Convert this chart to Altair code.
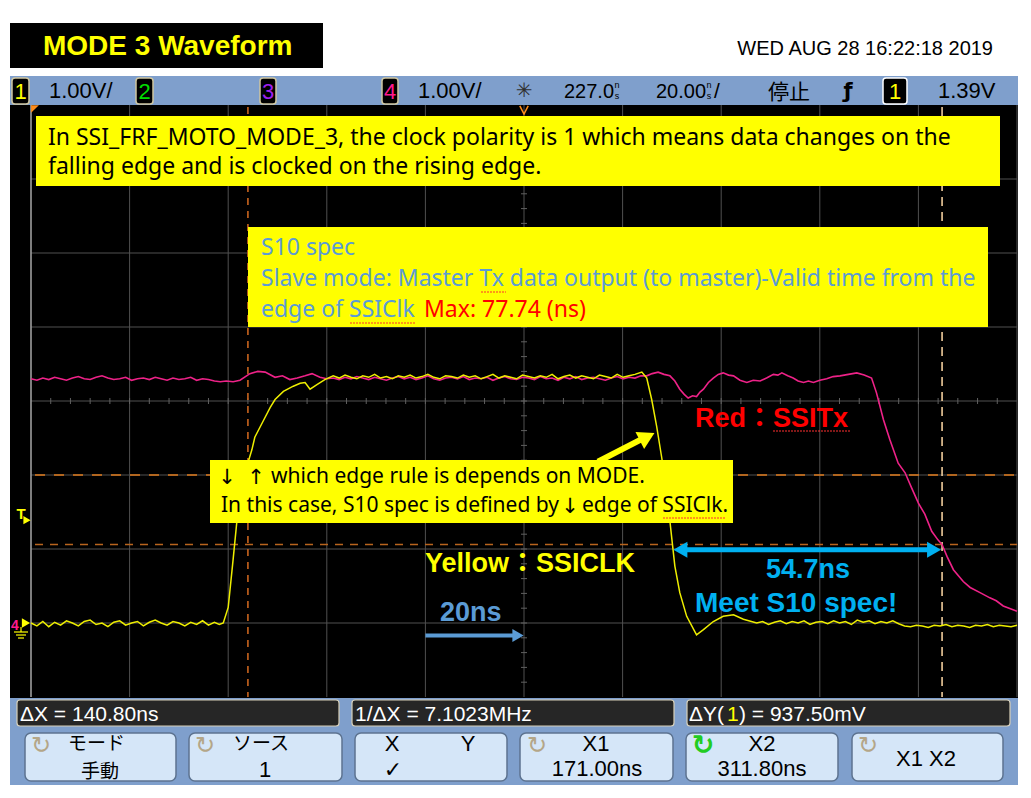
import altair as alt
import pandas as pd

# ---------------- values ----------------
# time: 20 ns/div, 10 div, centre 227.0 ns  -> 127 .. 327 ns
# volts: 1.00 V/div, 8 div, ground 3 div below centre -> -1 .. 7 V
t_domain = [127.0, 327.0]
v_domain = [-1.0, 7.0]
grid_t = [127, 147, 167, 187, 207, 227, 247, 267, 287, 307, 327]
grid_v = [0, 1, 2, 3, 4, 5, 6]

cursor_x1 = 171.00
cursor_x2 = 311.80
cursor_y1 = 1.0625
cursor_y2 = 2.0
trigger_level = 1.39
span_ns = 54.7

# channel 1 (yellow, SSICLK)
y_low1_t = [127.0, 128.2, 129.4, 130.6, 131.8, 133.0, 134.2, 135.4, 136.6, 137.8,
            139.0, 140.2, 141.4, 142.6, 143.8, 145.0, 146.2, 147.4, 148.6, 149.8,
            151.0, 152.2, 153.4, 154.6, 155.8, 157.0, 158.2, 159.4, 160.6, 161.8,
            163.0, 164.2, 165.2, 166.0]
y_low1_v = [0.00, -0.04, 0.02, -0.05, 0.01, -0.03, 0.03, 0.00, -0.04, 0.02,
            0.04, -0.02, 0.00, -0.05, 0.01, 0.03, -0.03, 0.00, 0.02, -0.04,
            0.01, 0.04, 0.00, -0.03, 0.02, 0.00, -0.04, 0.01, -0.02, 0.03,
            -0.03, 0.01, -0.02, 0.00]
y_rise_t = [167.0, 168.0, 168.8, 169.7, 170.8, 171.8, 172.4, 174.1, 175.5, 176.5,
            178.2, 180.2, 181.6, 182.6, 183.6, 185.0, 186.6, 188.3]
y_rise_v = [0.21, 0.86, 1.40, 1.76, 2.12, 2.34, 2.51, 2.73, 2.91, 3.02,
            3.13, 3.20, 3.24, 3.25, 3.16, 3.22, 3.29, 3.34]
y_high_t = [189.5, 190.7, 191.9, 193.1, 194.3, 195.5, 196.7, 197.9, 199.1, 200.3,
            201.5, 202.7, 203.9, 205.1, 206.3, 207.5, 208.7, 209.9, 211.1, 212.3,
            213.5, 214.7, 215.9, 217.1, 218.3, 219.5, 220.7, 221.9, 223.1, 224.3,
            225.5, 226.7, 227.9, 229.1, 230.3, 231.5, 232.7, 233.9, 235.1, 236.3,
            237.5, 238.7, 239.9, 241.1, 242.3, 243.5, 244.7, 245.9, 247.1, 248.3,
            249.5, 250.9]
y_high_v = [3.31, 3.35, 3.32, 3.30, 3.34, 3.32, 3.36, 3.31, 3.33, 3.30,
            3.34, 3.32, 3.35, 3.31, 3.33, 3.36, 3.32, 3.30, 3.34, 3.33,
            3.31, 3.35, 3.32, 3.34, 3.30, 3.33, 3.36, 3.31, 3.34, 3.32,
            3.30, 3.35, 3.33, 3.31, 3.34, 3.32, 3.36, 3.30, 3.33, 3.35,
            3.31, 3.34, 3.32, 3.30, 3.35, 3.33, 3.31, 3.36, 3.32, 3.34,
            3.36, 3.39]
y_fall_t = [251.9, 252.9, 253.9, 254.9, 255.9, 257.0, 257.6, 258.6, 260.0, 262.0,
            263.4, 265.4, 267.4, 269.5, 271.5, 274.2]
y_fall_v = [3.31, 3.02, 2.66, 2.25, 1.80, 1.13, 0.77, 0.41, 0.09, -0.16,
            -0.09, 0.02, 0.09, 0.11, 0.05, 0.00]
y_low2_t = [275.4, 276.6, 277.8, 279.0, 280.2, 281.4, 282.6, 283.8, 285.0, 286.2,
            287.4, 288.6, 289.8, 291.0, 292.2, 293.4, 294.6, 295.8, 297.0, 298.2,
            299.4, 300.6, 301.8, 303.0, 304.2, 305.4, 306.6, 307.8, 309.0, 310.2,
            311.4, 312.6, 313.8, 315.0, 316.2, 317.4, 318.6, 319.8, 321.0, 322.2,
            323.4, 324.6, 325.8, 327.0]
y_low2_v = [0.02, -0.02, 0.01, 0.03, -0.01, 0.02, 0.00, 0.03, -0.02, 0.01,
            0.02, -0.01, 0.03, 0.00, 0.02, -0.02, 0.04, 0.01, 0.03, -0.01,
            0.02, 0.00, 0.03, -0.01, -0.04, -0.05, -0.03, -0.04, -0.06, -0.03,
            -0.04, -0.02, -0.05, -0.03, -0.04, -0.06, -0.03, -0.04, -0.02, -0.05,
            -0.03, -0.04, -0.05, -0.03]

# channel 4 (pink, SSITx)
p_high1_t = [127.0, 128.2, 129.4, 130.6, 131.8, 133.0, 134.2, 135.4, 136.6, 137.8,
             139.0, 140.2, 141.4, 142.6, 143.8, 145.0, 146.2, 147.4, 148.6, 149.8,
             151.0, 152.2, 153.4, 154.6, 155.8, 157.0, 158.2, 159.4, 160.6, 161.8,
             163.0, 164.2, 165.4, 166.6]
p_high1_v = [3.30, 3.28, 3.31, 3.29, 3.32, 3.30, 3.28, 3.31, 3.33, 3.30,
             3.29, 3.32, 3.34, 3.31, 3.29, 3.30, 3.32, 3.28, 3.30, 3.31,
             3.29, 3.32, 3.30, 3.28, 3.31, 3.29, 3.30, 3.32, 3.28, 3.30,
             3.29, 3.27, 3.26, 3.27]
p_bump1_t = [168.0, 169.4, 171.4, 173.0, 174.5, 176.5, 178.0, 179.5, 181.0, 182.6,
             184.0, 185.6, 187.0]
p_bump1_v = [3.26, 3.28, 3.37, 3.40, 3.39, 3.32, 3.34, 3.29, 3.31, 3.34,
             3.37, 3.32, 3.30]
p_high2_t = [188.3, 189.5, 190.7, 191.9, 193.1, 194.3, 195.5, 196.7, 197.9, 199.1,
             200.3, 201.5, 202.7, 203.9, 205.1, 206.3, 207.5, 208.7, 209.9, 211.1,
             212.3, 213.5, 214.7, 215.9, 217.1, 218.3, 219.5, 220.7, 221.9, 223.1,
             224.3, 225.5, 226.7, 227.9, 229.1, 230.3, 231.5, 232.7, 233.9, 235.1,
             236.3, 237.5, 238.7, 239.9, 241.1, 242.3, 243.5, 244.7, 245.9, 247.1,
             248.3, 249.5, 250.7]
p_high2_v = [3.31, 3.29, 3.32, 3.30, 3.33, 3.31, 3.29, 3.32, 3.30, 3.28,
             3.31, 3.33, 3.30, 3.32, 3.29, 3.31, 3.34, 3.30, 3.28, 3.31,
             3.32, 3.30, 3.33, 3.29, 3.31, 3.30, 3.32, 3.28, 3.31, 3.33,
             3.30, 3.29, 3.32, 3.31, 3.29, 3.33, 3.30, 3.31, 3.28, 3.32,
             3.30, 3.33, 3.29, 3.31, 3.32, 3.30, 3.28, 3.31, 3.33, 3.30,
             3.32, 3.31, 3.34]
p_wave_t = [251.9, 253.0, 254.2, 255.4, 256.6, 257.6, 258.6, 259.5, 260.3, 261.2,
            262.0, 262.7, 263.4, 264.4, 265.4, 266.4, 267.4, 268.5, 269.5, 270.8,
            272.2, 273.5, 274.9, 276.2, 277.6, 278.5, 279.3, 280.5, 281.6, 282.6,
            283.7, 284.7, 285.7, 287.0, 288.4, 289.7, 291.1, 292.8, 294.5, 296.0,
            297.5]
p_wave_v = [3.34, 3.37, 3.39, 3.36, 3.34, 3.27, 3.16, 3.09, 3.04, 3.07,
            3.06, 3.12, 3.16, 3.25, 3.31, 3.36, 3.38, 3.35, 3.34, 3.28,
            3.25, 3.28, 3.27, 3.31, 3.36, 3.35, 3.38, 3.34, 3.31, 3.27,
            3.25, 3.27, 3.25, 3.28, 3.30, 3.33, 3.34, 3.36, 3.38, 3.35,
            3.31]
p_fall_t = [298.5, 299.9, 301.2, 302.9, 304.3, 305.6, 307.0, 308.3, 309.7, 311.0,
            311.8, 312.8, 314.1, 316.1, 317.5, 319.5, 321.5, 322.8, 324.2, 325.4,
            327.0]
p_fall_v = [3.11, 2.75, 2.48, 2.16, 2.03, 1.83, 1.62, 1.47, 1.24, 1.12,
            1.06, 0.90, 0.72, 0.56, 0.48, 0.41, 0.34, 0.30, 0.23, 0.20,
            0.16]

yellow = pd.DataFrame({"t": y_low1_t + y_rise_t + y_high_t + y_fall_t + y_low2_t,
                       "v": y_low1_v + y_rise_v + y_high_v + y_fall_v + y_low2_v})
pink = pd.DataFrame({"t": p_high1_t + p_bump1_t + p_high2_t + p_wave_t + p_fall_t,
                     "v": p_high1_v + p_bump1_v + p_high2_v + p_wave_v + p_fall_v})

# ---------------- layout helpers ----------------
W, H = 986, 592          # plot area = scope graticule
OX, OY = 31, 105         # page position of the graticule's top-left corner
ONE = pd.DataFrame({"k": [0]})
SCOPE = "Liberation Sans, Arial, sans-serif"
NOTE = "Noto Sans, Open Sans, sans-serif"
BOLD = "Liberation Sans, Noto Sans CJK JP, sans-serif"
JP = "Noto Sans CJK JP, sans-serif"
SYM = "DejaVu Sans, sans-serif"

xs = alt.Scale(domain=t_domain, nice=False, zero=False)
ys = alt.Scale(domain=v_domain, nice=False, zero=False)


def X(f):
    return alt.X(f, type="quantitative", scale=xs, axis=None)


def Y(f):
    return alt.Y(f, type="quantitative", scale=ys, axis=None)


def rect(x1, y1, x2, y2, fill, stroke=None, sw=1.0, r=0):
    kw = dict(fill=fill)
    if stroke:
        kw.update(stroke=stroke, strokeWidth=sw)
    else:
        kw.update(strokeWidth=0)
    if r:
        kw["cornerRadius"] = r
    return alt.Chart(ONE).mark_rect(**kw).encode(
        x=alt.value(x1 - OX), x2=alt.value(x2 - OX),
        y=alt.value(y1 - OY), y2=alt.value(y2 - OY))


def text(x, y, s, size, color="black", font=SCOPE, weight="normal",
         align="left", baseline="alphabetic"):
    return alt.Chart(ONE).mark_text(
        text=s, fontSize=size, color=color, font=font, fontWeight=weight,
        align=align, baseline=baseline).encode(
        x=alt.value(x - OX), y=alt.value(y - OY))


def seg(x1, y1, x2, y2, color, sw=1.0, dash=None):
    kw = dict(color=color, strokeWidth=sw)
    if dash:
        kw["strokeDash"] = dash
    return alt.Chart(ONE).mark_rule(**kw).encode(
        x=alt.value(x1 - OX), x2=alt.value(x2 - OX),
        y=alt.value(y1 - OY), y2=alt.value(y2 - OY))


def sym(x, y, shape, size, color, filled=True, angle=0, sw=1.5):
    kw = dict(shape=shape, size=size, filled=filled, opacity=1, strokeWidth=sw)
    if filled:
        kw.update(fill=color, strokeWidth=0)
    else:
        kw.update(stroke=color)
    if angle:
        kw["angle"] = angle
    return alt.Chart(ONE).mark_point(**kw).encode(
        x=alt.value(x - OX), y=alt.value(y - OY))


def squiggle(x1, x2, y):
    return seg(x1, y, x2, y, "#ff3030", 1.2, [2, 1])


layers = []

# ---------------- page chrome ----------------
layers.append(rect(10, 23, 323, 68, "black"))
layers.append(text(43, 55, "MODE 3 Waveform", 28, "#ffff00", BOLD, "bold"))
layers.append(text(993, 55, "WED AUG 28 16:22:18 2019", 20, "black", SCOPE, align="right"))

# status bar
layers.append(rect(10, 76, 1018, 105, "#7f9fcc"))
for (bx1, bx2, lab, col, bstroke) in [(12, 29, "1", "#ffff00", "#cfc6a0"),
                                      (136, 153, "2", "#00dd00", "#cfc6a0"),
                                      (260, 276, "3", "#a020f0", "#cfc6a0"),
                                      (382, 398, "4", "#ff1a8c", "#cfc6a0"),
                                      (883, 907, "1", "#ffff00", "#ffffff")]:
    layers.append(rect(bx1, 78, bx2, 104, "black", bstroke, 1.5, 3))
    layers.append(text((bx1 + bx2) / 2, 99, lab, 22, col, SCOPE, align="center"))
layers.append(text(49, 98, "1.00V/", 22))
layers.append(text(418, 98, "1.00V/", 22))
layers.append(text(524, 97, "✳", 20, "#303030", SYM, align="center"))
layers.append(text(564, 98, "227.0", 20))
layers.append(text(617, 88, "n", 9, align="center"))
layers.append(text(617, 99, "s", 9, align="center"))
layers.append(text(656, 98, "20.00", 20))
layers.append(text(709, 88, "n", 9, align="center"))
layers.append(text(709, 99, "s", 9, align="center"))
layers.append(text(714, 98, "/", 21))
layers.append(text(768, 99, "停止", 21, "black", JP))
layers.append(text(848, 98, "ƒ", 21, "black", SYM, "bold", align="center"))
layers.append(text(938, 98, "1.39V", 22))

# bottom softkey area
layers.append(rect(10, 698, 1018, 790, "#7f9fcc"))
for (bx1, bx2) in [(17, 339), (352, 674), (687, 1010)]:
    layers.append(rect(bx1, 700, bx2, 726, "#262626", "#d8d0b8", 1.2, 3))
layers.append(text(20, 721, "ΔX = 140.80ns", 21, "white"))
layers.append(text(355, 721, "1/ΔX = 7.1023MHz", 21, "white"))
layers.append(text(689, 721, "ΔY(", 21, "white"))
layers.append(text(727, 721, "1", 21, "#ffff00"))
layers.append(text(739, 721, ") = 937.50mV", 21, "white"))
for (bx1, bx2) in [(25, 176), (189, 342), (355, 507), (520, 673), (686, 838), (852, 1003)]:
    layers.append(rect(bx1, 733, bx2, 781, "#d5e6f8", "#5d7390", 1.5, 6))
ICON = "#b4a688"
layers.append(text(41, 753, "↻", 24, ICON, SYM, align="center"))
layers.append(text(205, 753, "↻", 24, ICON, SYM, align="center"))
layers.append(text(537, 753, "↻", 24, ICON, SYM, align="center"))
layers.append(text(703, 754, "↻", 27, "#22cc22", SYM, "bold", align="center"))
layers.append(text(868, 753, "↻", 24, ICON, SYM, align="center"))
layers.append(text(68, 750, "モード", 19, "black", JP))
layers.append(text(100, 778, "手動", 19, "black", JP, align="center"))
layers.append(text(233, 750, "ソース", 19, "black", JP))
layers.append(text(265, 777, "1", 22, align="center"))
layers.append(text(392, 751, "X", 22, align="center"))
layers.append(text(468, 751, "Y", 22, align="center"))
layers.append(text(393, 777, "✓", 22, "black", SYM, align="center"))
layers.append(text(596, 751, "X1", 22, align="center"))
layers.append(text(597, 776, "171.00ns", 22, align="center"))
layers.append(text(762, 751, "X2", 22, align="center"))
layers.append(text(762, 776, "311.80ns", 22, align="center"))
layers.append(text(926, 766, "X1 X2", 22, align="center"))

# ---------------- scope screen ----------------
layers.append(rect(10, 105, 1018, 698, "black"))

grid_df = pd.DataFrame({"t": grid_t})
layers.append(alt.Chart(grid_df).mark_rule(color="#505050", strokeWidth=1).encode(
    x=X("t"), y=alt.value(0), y2=alt.value(H)))
layers.append(alt.Chart(pd.DataFrame({"v": grid_v})).mark_rule(color="#505050", strokeWidth=1).encode(
    y=Y("v"), x=alt.value(0), x2=alt.value(W)))
minor_t = pd.DataFrame({"t": [127 + 4 * k for k in range(1, 50)]})
minor_v = pd.DataFrame({"v": [-1 + 0.2 * k for k in range(1, 40)]})
layers.append(alt.Chart(minor_t).mark_rule(color="#606060", strokeWidth=1).encode(
    x=X("t"), y=alt.value(H / 2 - 3), y2=alt.value(H / 2 + 3)))
layers.append(alt.Chart(minor_v).mark_rule(color="#606060", strokeWidth=1).encode(
    y=Y("v"), x=alt.value(W / 2 - 3), x2=alt.value(W / 2 + 3)))
layers.append(alt.Chart(pd.DataFrame({"t": [t_domain[0]]})).mark_rule(color="#b8b8b8", strokeWidth=1.2).encode(
    x=X("t"), y=alt.value(0), y2=alt.value(H)))

# cursors
layers.append(alt.Chart(pd.DataFrame({"v": [cursor_y2]})).mark_rule(
    color="#e07b1c", strokeWidth=1.5, strokeDash=[10, 9]).encode(
    y=Y("v"), x=alt.value(4), x2=alt.value(W)))
layers.append(alt.Chart(pd.DataFrame({"v": [cursor_y1]})).mark_rule(
    color="#b8641e", strokeWidth=1.5, strokeDash=[8, 7]).encode(
    y=Y("v"), x=alt.value(4), x2=alt.value(W)))
layers.append(alt.Chart(pd.DataFrame({"t": [cursor_x1]})).mark_rule(
    color="#c8641e", strokeWidth=1.6, strokeDash=[7, 6]).encode(
    x=X("t"), y=alt.value(2), y2=alt.value(H)))
layers.append(alt.Chart(pd.DataFrame({"t": [cursor_x2]})).mark_rule(
    color="#ffd9a6", strokeWidth=1.5, strokeDash=[9, 6]).encode(
    x=X("t"), y=alt.value(2), y2=alt.value(H)))

# traces
layers.append(alt.Chart(pink).mark_line(color="#ee2288", strokeWidth=1.6).encode(x=X("t"), y=Y("v")))
layers.append(alt.Chart(yellow).mark_line(color="#eeee00", strokeWidth=1.5).encode(x=X("t"), y=Y("v")))

# markers on the screen edge
layers.append(sym(35, 109, "M-1,-1L1,-1L-1,1Z", 60, "#ff8c1a"))
layers.append(sym(524, 110, "M-1,-1L0,1L1,-1", 70, "#ff8c1a", filled=False))
layers.append(text(21, 519, "T", 15, "#ffff00", SCOPE, "bold", align="center"))
trig_df = pd.DataFrame({"v": [trigger_level]})
layers.append(alt.Chart(trig_df).mark_point(shape="triangle-right", size=70, filled=True,
                                            fill="#ffff00", strokeWidth=0, opacity=1).encode(
    x=alt.value(27 - OX), y=Y("v")))
layers.append(text(15, 630, "4", 14, "#ff1a8c", SCOPE, "bold", align="center"))
layers.append(alt.Chart(pd.DataFrame({"v": [0.0]})).mark_point(shape="triangle-right", size=90, filled=True,
                                                                  fill="#ffff00", strokeWidth=0, opacity=1).encode(
    x=alt.value(26 - OX), y=Y("v")))
layers.append(seg(21, 627, 21, 632, "#ffff00", 1.2))
layers.append(seg(14, 632, 28, 632, "#ffff00", 1.2))
layers.append(seg(16, 635, 26, 635, "#ffff00", 1.2))
layers.append(seg(18, 638, 24, 638, "#ffff00", 1.2))

# ---------------- annotations ----------------
layers.append(rect(36, 116, 1000, 186, "#ffff00"))
layers.append(text(48, 145, "In SSI_FRF_MOTO_MODE_3, the clock polarity is 1 which means data changes on the", 23, "black", NOTE))
layers.append(text(48, 174, "falling edge and is clocked on the rising edge.", 23, "black", NOTE))

layers.append(rect(248, 227, 988, 327, "#ffff00"))
BLUE_TXT = "#5b9bd5"
layers.append(text(261, 255, "S10 spec", 23, BLUE_TXT, NOTE))
layers.append(text(261, 286, "Slave mode: Master Tx data output (to master)-Valid time from the", 23, BLUE_TXT, NOTE))
layers.append(text(261, 317, "edge of SSIClk", 23, BLUE_TXT, NOTE))
layers.append(text(424, 317, "Max: 77.74 (ns)", 23, "#ff0000", NOTE))
layers.append(squiggle(481, 506, 292))
layers.append(squiggle(350, 415, 323))

layers.append(rect(210, 460, 733, 523, "#ffff00"))
layers.append(text(227, 484, "↓", 21, "black", SYM, align="center"))
layers.append(text(256, 484, "↑", 21, "black", SYM, align="center"))
layers.append(text(271, 483, "which edge rule is depends on MODE.", 21, "black", NOTE))
layers.append(text(221, 512, "In this case, S10 spec is defined by", 21, "black", NOTE))
layers.append(text(570, 513, "↓", 21, "black", SYM, align="center"))
layers.append(text(582, 512, "edge of SSIClk.", 21, "black", NOTE))
layers.append(squiggle(663, 726, 518))

# yellow pointer arrow to the falling clock edge
ptr = pd.DataFrame({"t1": [242.0], "v1": [2.18], "t2": [253.6], "v2": [2.57]})
layers.append(alt.Chart(ptr).mark_rule(color="#ffff00", strokeWidth=6, x2Offset=-9, y2Offset=4).encode(
    x=X("t1"), y=Y("v1"), x2=alt.X2("t2"), y2=alt.Y2("v2")))
layers.append(alt.Chart(ptr).mark_point(shape="triangle-right", size=360, filled=True, fill="#ffff00",
                                        strokeWidth=0, opacity=1, angle=333, xOffset=-8, yOffset=4).encode(
    x=X("t2"), y=Y("v2")))

layers.append(text(695, 427, "Red：SSITx", 27, "#ff0000", BOLD, "bold"))
layers.append(squiggle(773, 851, 431))
layers.append(text(425, 572, "Yellow：SSICLK", 27, "#ffff00", BOLD, "bold"))

# 54.7 ns double arrow between the two edges (at the Y1 level)
span = pd.DataFrame({"t1": [cursor_x2 - span_ns], "t2": [cursor_x2], "v": [0.99]})
CYAN = "#00b0f0"
layers.append(alt.Chart(span).mark_rule(color=CYAN, strokeWidth=5, xOffset=10, x2Offset=-10).encode(
    x=X("t1"), x2=alt.X2("t2"), y=Y("v")))
layers.append(alt.Chart(span).mark_point(shape="triangle-left", size=260, filled=True, fill=CYAN,
                                         strokeWidth=0, opacity=1, xOffset=8).encode(x=X("t1"), y=Y("v")))
layers.append(alt.Chart(span).mark_point(shape="triangle-right", size=260, filled=True, fill=CYAN,
                                         strokeWidth=0, opacity=1, xOffset=-8).encode(x=X("t2"), y=Y("v")))
layers.append(text(808, 578, "54.7ns", 27, CYAN, BOLD, "bold", align="center"))
layers.append(text(695, 612, "Meet S10 spec!", 28, CYAN, BOLD, "bold"))

# 20 ns scale arrow
sc = pd.DataFrame({"t1": [207.0], "t2": [227.0], "v": [-0.17]})
layers.append(alt.Chart(sc).mark_rule(color=BLUE_TXT, strokeWidth=4, x2Offset=-8).encode(
    x=X("t1"), x2=alt.X2("t2"), y=Y("v")))
layers.append(alt.Chart(sc).mark_point(shape="triangle-right", size=170, filled=True, fill=BLUE_TXT,
                                       strokeWidth=0, opacity=1, xOffset=-6).encode(x=X("t2"), y=Y("v")))
layers.append(text(440, 621, "20ns", 27, BLUE_TXT, BOLD, "bold"))

chart = alt.layer(*layers).properties(
    width=W, height=H,
    padding={"left": 23, "top": 97, "right": 6, "bottom": 88},
    autosize=alt.AutoSizeParams(type="none"),
    background="white",
).configure_view(stroke=None)

chart.save("out.html", embed_options={"renderer": "svg", "actions": False})
